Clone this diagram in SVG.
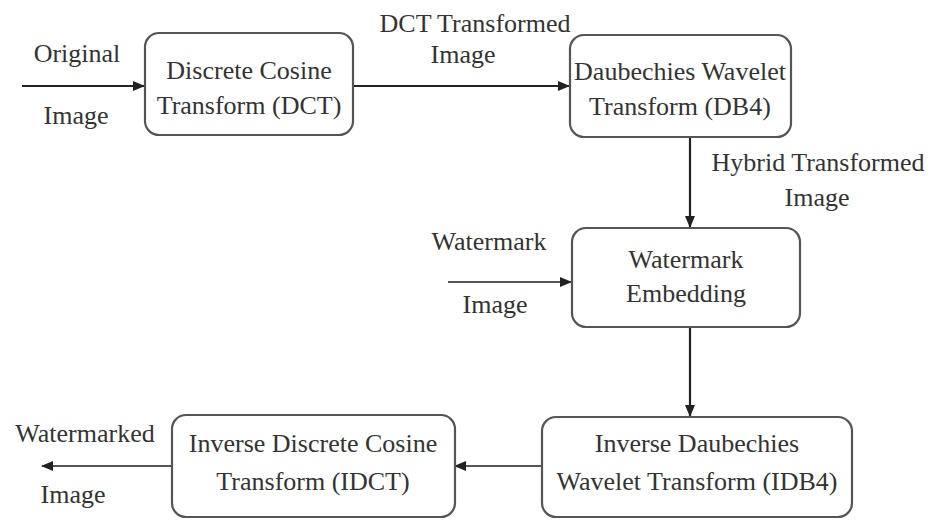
<svg xmlns="http://www.w3.org/2000/svg" width="930" height="520" viewBox="0 0 930 520" font-family="Liberation Serif, DejaVu Serif, serif">
<style>
.box{fill:#fff;stroke:#555;stroke-width:2.2}
.t{font-size:26px;fill:#333;text-anchor:middle}
.c{stroke:#222;stroke-width:2.2;fill:none}
.c2{stroke:#555;stroke-width:2;fill:none}
</style>
<defs>
<marker id="ah" markerWidth="12" markerHeight="10" refX="11" refY="5" orient="auto" markerUnits="userSpaceOnUse">
<path d="M0,0 L12,5 L0,10 Z" fill="#222"/>
</marker>
</defs>
<rect width="930" height="520" fill="#fff"/>
<g id="connectors">
<line class="c" x1="22" y1="86" x2="144" y2="86" marker-end="url(#ah)"/>
<line class="c" x1="353" y1="86" x2="569" y2="86" marker-end="url(#ah)"/>
<line class="c" x1="690" y1="137" x2="690" y2="227" marker-end="url(#ah)"/>
<line class="c2" x1="448" y1="282" x2="571" y2="282" marker-end="url(#ah)"/>
<line class="c" x1="690" y1="327" x2="690" y2="416" marker-end="url(#ah)"/>
<line class="c2" x1="542" y1="466" x2="455" y2="466" marker-end="url(#ah)"/>
<line class="c2" x1="172" y1="466" x2="42" y2="466" marker-end="url(#ah)"/>
</g>
<g id="labels" class="t" font-family="Liberation Serif, serif">
<text x="77" y="62">Original</text>
<text x="76" y="124">Image</text>
<text x="475" y="32">DCT Transformed</text>
<text x="463" y="63">Image</text>
<text x="818" y="171">Hybrid Transformed</text>
<text x="817" y="206">Image</text>
<text x="489" y="250">Watermark</text>
<text x="495" y="313">Image</text>
<text x="85" y="442">Watermarked</text>
<text x="73" y="503">Image</text>
</g>
<g id="dct" class="t" font-family="Liberation Serif, serif">
<rect class="box" x="145" y="33" width="208" height="102" rx="14"/>
<text x="249" y="79">Discrete Cosine</text>
<text x="249" y="114">Transform (DCT)</text>
</g>
<g id="db4" class="t" font-family="Liberation Serif, serif">
<rect class="box" x="570" y="35" width="221" height="102" rx="14"/>
<text x="680" y="80">Daubechies Wavelet</text>
<text x="680" y="115">Transform (DB4)</text>
</g>
<g id="embed" class="t" font-family="Liberation Serif, serif">
<rect class="box" x="572" y="228" width="228" height="99" rx="14"/>
<text x="686" y="268">Watermark</text>
<text x="686" y="302">Embedding</text>
</g>
<g id="idb4" class="t" font-family="Liberation Serif, serif">
<rect class="box" x="542" y="417" width="310" height="100" rx="14"/>
<text x="697" y="452">Inverse Daubechies</text>
<text x="697" y="490">Wavelet Transform (IDB4)</text>
</g>
<g id="idct" class="t" font-family="Liberation Serif, serif">
<rect class="box" x="172" y="415" width="283" height="102" rx="14"/>
<text x="313" y="452">Inverse Discrete Cosine</text>
<text x="313" y="490">Transform (IDCT)</text>
</g>
</svg>
